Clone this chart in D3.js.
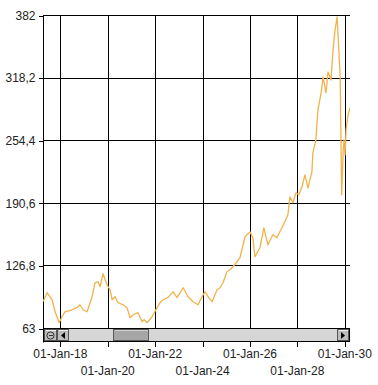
<!DOCTYPE html>
<html>
<head>
<meta charset="utf-8">
<script src="https://cdn.jsdelivr.net/npm/d3@7"></script>
<style>
  html, body { margin: 0; padding: 0; background: #fff; }
  svg { display: block; }
  text { font-family: "Liberation Sans", Arial, sans-serif; font-size: 12px; fill: #222; }
</style>
</head>
<body>
<div id="chart"></div>
<script>
// values
const dates = [
  "2017-04-10", "2017-06-10", "2017-08-25", "2017-10-12", "2017-12-13", "2018-01-26", "2018-03-13",
  "2018-05-29", "2018-09-13", "2018-10-30", "2018-12-16", "2019-02-16", "2019-05-05", "2019-06-18",
  "2019-08-03", "2019-09-04", "2019-10-20", "2019-12-20", "2020-02-05", "2020-03-08", "2020-04-23",
  "2020-06-08", "2020-08-24", "2020-10-24", "2020-12-09", "2021-01-25", "2021-04-12", "2021-06-13",
  "2021-07-14", "2021-08-29", "2021-11-14", "2022-01-30", "2022-03-17", "2022-05-01", "2022-07-17",
  "2022-10-04", "2022-12-03", "2023-03-08", "2023-05-23", "2023-08-08", "2023-10-24", "2023-12-24",
  "2024-02-09", "2024-03-26", "2024-05-26", "2024-08-11", "2024-09-26", "2024-11-11", "2025-01-11",
  "2025-02-26", "2025-04-13", "2025-06-14", "2025-07-30", "2025-10-16", "2026-01-01", "2026-02-15",
  "2026-03-18", "2026-06-03", "2026-08-03", "2026-10-04", "2026-12-19", "2027-02-19", "2027-05-07",
  "2027-06-22", "2027-08-08", "2027-09-08", "2027-10-24", "2027-12-10", "2028-01-25", "2028-03-12",
  "2028-04-27", "2028-06-12", "2028-08-12", "2028-08-27", "2028-10-12", "2028-11-13", "2029-01-01",
  "2029-01-31", "2029-03-17", "2029-04-17", "2029-06-02", "2029-07-04", "2029-08-04", "2029-09-04",
  "2029-09-20", "2029-10-22", "2029-11-06", "2029-11-14", "2029-12-07", "2029-12-21", "2030-01-05",
  "2030-01-20", "2030-02-20", "2030-03-22"
];
const values = [
  90, 99, 91.8, 79.6, 68.4, 74.5, 79.6,
  80.6, 83.7, 86.7, 81.6, 79.6, 94.9, 109.1,
  110.1, 105, 118.3, 107.1, 102, 91.8, 94.9,
  88.8, 86.7, 83.7, 73.5, 76.5, 78.6, 69.4,
  71.5, 68.4, 74.5, 83.7, 88.8, 91.8, 93.9,
  100, 93.9, 104, 94.9, 89.8, 86.7, 94.9,
  100, 94.9, 89.8, 102, 104, 109.1, 120.3,
  122.4, 125.4, 130.5, 134.6, 156, 161, 154.9,
  135.6, 144.8, 165.1, 147.8, 158, 154.9, 165.1,
  171.2, 178.4, 196.7, 190.6, 200.8, 198.7, 206.9,
  219.1, 205.9, 222.1, 241.5, 254.7, 285.3, 302.6,
  318.9, 302.6, 324, 315.8, 346.4, 366.7, 380,
  359.6, 318.9, 234.3, 198.7, 244.5, 254.7, 239.4,
  264.9, 280.1, 287.3
];
const yTicks = [63, 126.8, 190.6, 254.4, 318.2, 382];
const xTickYears = [2018, 2020, 2022, 2024, 2026, 2028, 2030];
const viewStart = "2017-04-08";
const viewEnd = "2030-03-22";

const width = 378, height = 385;
const plotLeft = 43, plotRight = 350, plotTop = 15, plotBottom = 328;

const parse = d3.timeParse("%Y-%m-%d");
const data = dates.map((d, i) => ({date: parse(d), value: values[i]}));

const x = d3.scaleTime()
    .domain([parse(viewStart), parse(viewEnd)])
    .range([plotLeft, plotRight]);
const y = d3.scaleLinear()
    .domain([63, 382])
    .range([plotBottom, plotTop]);

const svg = d3.select("#chart").append("svg")
    .attr("width", width)
    .attr("height", height);

const xTicks = xTickYears.map((yr) => new Date(yr, 0, 1));
const fmtDate = d3.timeFormat("%d-%b-%y");
const fmtY = (v) => String(v).replace(".", ",");

// grid
const grid = svg.append("g").attr("shape-rendering", "crispEdges");
grid.selectAll("line.h").data(yTicks).join("line")
    .attr("class", "h")
    .attr("x1", plotLeft).attr("x2", plotRight)
    .attr("y1", (d) => Math.round(y(d)) + 0.5)
    .attr("y2", (d) => Math.round(y(d)) + 0.5)
    .attr("stroke", "#000");
grid.selectAll("line.v").data(xTicks).join("line")
    .attr("class", "v")
    .attr("x1", (d) => Math.round(x(d)) + 0.5)
    .attr("x2", (d) => Math.round(x(d)) + 0.5)
    .attr("y1", plotTop).attr("y2", plotBottom)
    .attr("stroke", "#000");

// y axis
const yAxis = svg.append("g")
    .attr("transform", `translate(${plotLeft + 0.5},0.5)`)
    .call(d3.axisLeft(y).tickValues(yTicks).tickFormat(fmtY).tickSize(5).tickPadding(3));
yAxis.select(".domain").attr("d", `M0,${plotTop}V${plotBottom + 14}`).attr("stroke", "#000");
yAxis.selectAll(".tick line").attr("stroke", "#000").attr("shape-rendering", "crispEdges");
yAxis.selectAll("text")
    .attr("fill", "#222")
    .style("font-size", "12px")
    .style("font-family", "Liberation Sans, Arial, sans-serif");

// series
svg.append("clipPath").attr("id", "plotClip")
    .append("rect").attr("x", plotLeft).attr("y", plotTop - 2)
    .attr("width", plotRight - plotLeft).attr("height", plotBottom - plotTop + 2);

const line = d3.line()
    .x((d) => x(d.date))
    .y((d) => y(d.value));

svg.append("path")
    .datum(data)
    .attr("clip-path", "url(#plotClip)")
    .attr("fill", "none")
    .attr("stroke", "#F2B24A")
    .attr("stroke-width", 1.3)
    .attr("stroke-linejoin", "round")
    .attr("d", line);

// scrollbar
const sb = svg.append("g").attr("shape-rendering", "crispEdges");
const sbTop = 328, sbH = 14;
sb.append("rect")
    .attr("x", plotLeft + 0.5).attr("y", sbTop + 0.5)
    .attr("width", plotRight - plotLeft - 1).attr("height", sbH - 1)
    .attr("fill", "#d6d6d6").attr("stroke", "#000");

const button = (bx, bw) => {
    sb.append("rect")
        .attr("x", bx + 0.5).attr("y", sbTop + 1.5)
        .attr("width", bw).attr("height", sbH - 3)
        .attr("fill", "#bdbdbd").attr("stroke", "#555");
    sb.append("line")
        .attr("x1", bx + 1.5).attr("x2", bx + bw - 0.5)
        .attr("y1", sbTop + 2.5).attr("y2", sbTop + 2.5)
        .attr("stroke", "#eee");
};
button(44, 12);
button(57, 11);
button(337, 11);

// zoom-reset icon
svg.append("circle").attr("cx", 50.5).attr("cy", sbTop + 7.5).attr("r", 3.6)
    .attr("fill", "none").attr("stroke", "#333").attr("stroke-width", 1);
svg.append("line").attr("x1", 48.5).attr("x2", 52.5)
    .attr("y1", sbTop + 7.5).attr("y2", sbTop + 7.5)
    .attr("stroke", "#333").attr("shape-rendering", "crispEdges");
// arrows
svg.append("path").attr("d", `M61,${sbTop + 7.5}L65,${sbTop + 4}V${sbTop + 11}Z`).attr("fill", "#000");
svg.append("path").attr("d", `M345,${sbTop + 7.5}L341,${sbTop + 4}V${sbTop + 11}Z`).attr("fill", "#000");

// thumb
sb.append("rect")
    .attr("x", 113.5).attr("y", sbTop + 1.5)
    .attr("width", 35).attr("height", sbH - 3)
    .attr("fill", "#a6a6a6").attr("stroke", "#5a5a5a");
sb.append("line")
    .attr("x1", 114.5).attr("x2", 148)
    .attr("y1", sbTop + 2.5).attr("y2", sbTop + 2.5)
    .attr("stroke", "#cfcfcf");

// x axis ticks and labels below scrollbar
const xAxis = svg.append("g");
xAxis.selectAll("line").data(xTicks).join("line")
    .attr("x1", (d) => Math.round(x(d)) + 0.5)
    .attr("x2", (d) => Math.round(x(d)) + 0.5)
    .attr("y1", 342).attr("y2", 347)
    .attr("stroke", "#000")
    .attr("shape-rendering", "crispEdges");
xAxis.selectAll("text").data(xTicks).join("text")
    .attr("x", (d) => x(d))
    .attr("y", (d, i) => i % 2 === 0 ? 358 : 375)
    .attr("text-anchor", "middle")
    .text((d) => fmtDate(d));
</script>
</body>
</html>
